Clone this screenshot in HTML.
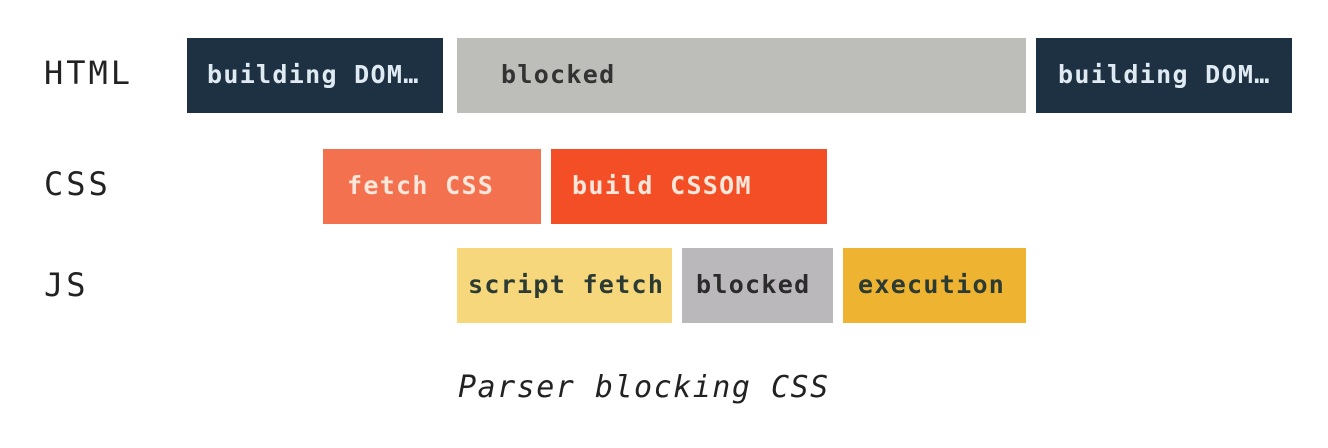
<!DOCTYPE html>
<html><head><style>
body{margin:0;width:1328px;height:448px;background:#fff;position:relative;overflow:hidden;font-family:"DejaVu Sans Mono","Liberation Mono",monospace}
.b{position:absolute;height:75px;line-height:73px;font-weight:bold;font-size:25px;box-sizing:border-box;white-space:nowrap;letter-spacing:1.3px}
.l{position:absolute;font-size:32px;line-height:40px;color:#222}
.r{letter-spacing:3px}
</style></head><body>
<div class="l r" style="left:44px;top:53px">HTML</div>
<div class="l r" style="left:44px;top:164px">CSS</div>
<div class="l r" style="left:44px;top:265px">JS</div>
<div class="b" style="left:187px;top:38px;width:256px;background:#1e3142;color:#dfeaf2;padding-left:20px">building DOM…</div>
<div class="b" style="left:457px;top:38px;width:569px;background:#bdbdb9;color:#333;padding-left:44px">blocked</div>
<div class="b" style="left:1036px;top:38px;width:256px;background:#1e3142;color:#dfeaf2;padding-left:22px">building DOM…</div>
<div class="b" style="left:323px;top:149px;width:218px;background:#f4714f;color:#fde6da;padding-left:24px">fetch CSS</div>
<div class="b" style="left:551px;top:149px;width:276px;background:#f44e26;color:#fde6da;padding-left:21px">build CSSOM</div>
<div class="b" style="left:457px;top:248px;width:215px;background:#f6d77c;color:#2b3a33;padding-left:11px">script fetch</div>
<div class="b" style="left:682px;top:248px;width:151px;background:#bab8ba;color:#2b2b2b;padding-left:14px">blocked</div>
<div class="b" style="left:843px;top:248px;width:183px;background:#edb331;color:#2b3a33;padding-left:15px">execution</div>
<div class="l" style="left:458px;top:368px;font-style:italic;font-size:30px;letter-spacing:1.5px">Parser blocking CSS</div>
</body></html>
